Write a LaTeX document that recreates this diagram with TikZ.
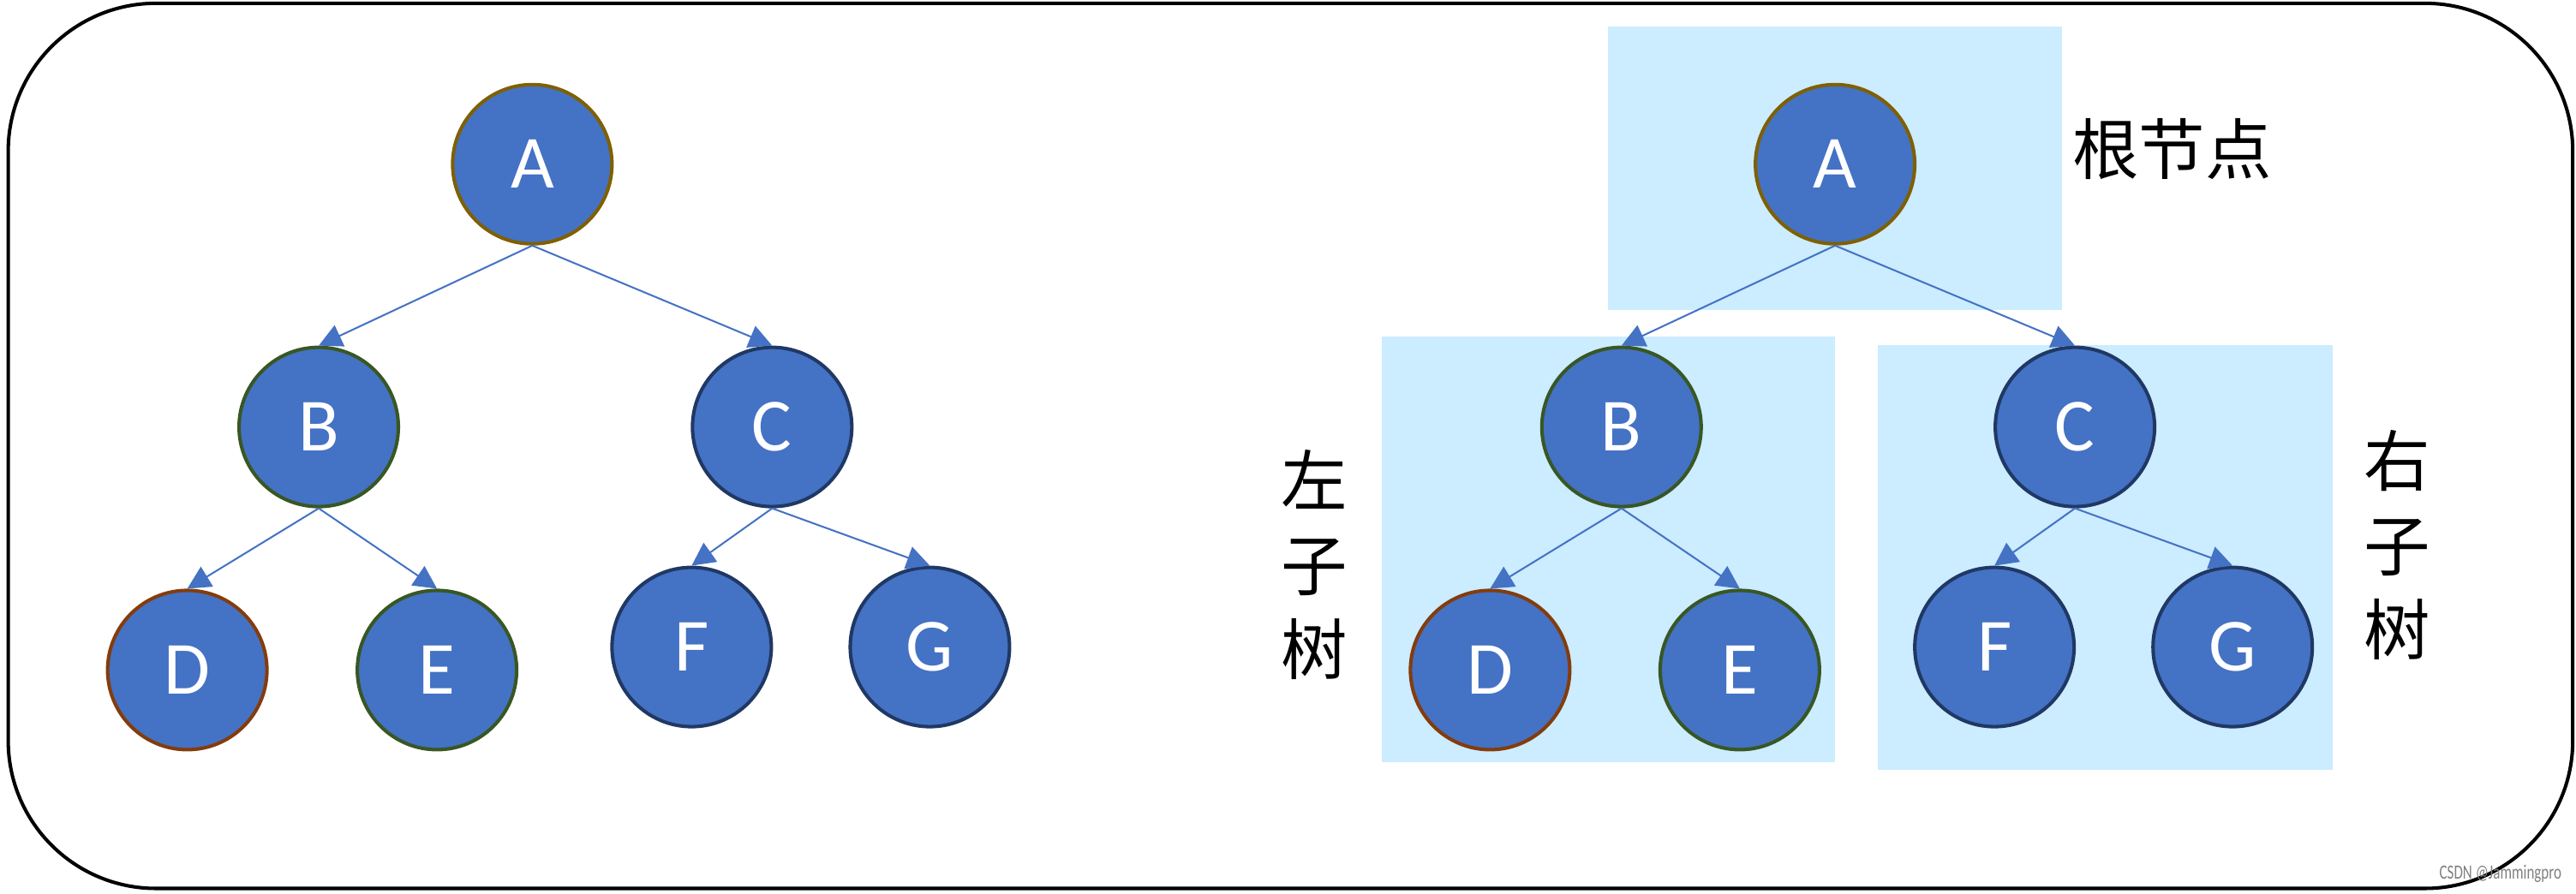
\documentclass[tikz,border=0pt]{standalone}
\usepackage{fontspec}
\setmainfont{Carlito}
\newfontfamily\cjkfont{Noto Sans CJK SC}
\usetikzlibrary{arrows.meta}
\definecolor{treeblue}{HTML}{4472C4}
\definecolor{rimgold}{HTML}{7F6000}
\definecolor{rimgreen}{HTML}{385723}
\definecolor{rimbrown}{HTML}{843C0C}
\definecolor{rimnavy}{HTML}{203864}
\definecolor{boxblue}{HTML}{CCECFF}
\tikzset{
	treenode/.style = {circle, fill = treeblue, line width = 1.2pt, minimum size = 1.94cm, inner sep = 0pt, text = white, font = \fontsize{26}{30}\selectfont},
	treeedge/.style = {draw = treeblue, line width = 0.6pt, -{Triangle[length = 8pt, width = 8pt]}},
	cjklabel/.style = {inner sep = 0pt, align = center, font = \cjkfont\fontsize{23}{29.2}\selectfont}
}
\begin{document}
\begin{tikzpicture}[x = 0.02cm, y = -0.02cm]
		\useasboundingbox (0,0) rectangle (1568,544);
		% shaded parts of the right tree
		\fill[boxblue] (979,16) rectangle (1255,189);
		\fill[boxblue] (841,205) rectangle (1117,464);
		\fill[boxblue] (1143,210) rectangle (1420,469);
		\draw[line width = 1.2pt, rounded corners = 1.8cm] (5,2) rectangle (1566,541);
		% the same tree twice
		\foreach \t/\dx in {l/0, r/793}
		{
			\node[treenode, draw = rimgold] (A\t) at (\dx + 324,100) {A};
			\node[treenode, draw = rimgreen] (B\t) at (\dx + 194,260) {B};
			\node[treenode, draw = rimnavy] (C\t) at (\dx + 470,260) {C};
			\node[treenode, draw = rimbrown] (D\t) at (\dx + 114,408) {D};
			\node[treenode, draw = rimgreen] (E\t) at (\dx + 266,408) {E};
			\node[treenode, draw = rimnavy] (F\t) at (\dx + 421,394) {F};
			\node[treenode, draw = rimnavy] (G\t) at (\dx + 566,394) {G};
			\foreach \p/\c in {A/B, A/C, B/D, B/E, C/F, C/G}
				\draw[treeedge] (\p\t.south) -- (\c\t.north);
		}
		\node[cjklabel] (rootlabel) at (1322,91) {根节点};
		\node[cjklabel] (leftlabel) at (800,344) {左\\子\\树};
		\node[cjklabel] (rightlabel) at (1459,332) {右\\子\\树};
		\node[text = gray, inner sep = 0pt, xscale = 0.72, font = \fontsize{7}{8}\selectfont] (mark) at (1522,532) {CSDN @Jammingpro};
	\end{tikzpicture}
\end{document}
